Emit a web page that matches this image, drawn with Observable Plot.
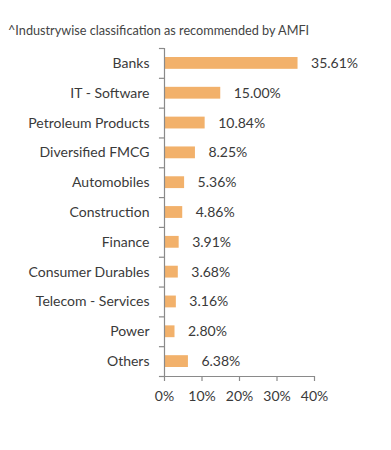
<!DOCTYPE html>
<html>
<head>
<meta charset="utf-8">
<script src="https://cdn.jsdelivr.net/npm/d3@7"></script>
<script src="https://cdn.jsdelivr.net/npm/@observablehq/plot@0.6"></script>
<style>
  body { margin: 0; background: #fff; font-family: Lato, sans-serif; }
  #wrap { position: relative; width: 391px; height: 450px; }
  #title { position: absolute; left: 8px; top: 22px; font-size: 12.7px; color: #444; white-space: nowrap; }
  #chart { position: absolute; left: 0; top: 0; }
</style>
</head>
<body>
<div id="wrap">
  <div id="title">^Industrywise classification as recommended by AMFI</div>
  <div id="chart"></div>
</div>
<script>
const categories = ["Banks", "IT - Software", "Petroleum Products", "Diversified FMCG", "Automobiles", "Construction", "Finance", "Consumer Durables", "Telecom - Services", "Power", "Others"];
const values = [35.61, 15.00, 10.84, 8.25, 5.36, 4.86, 3.91, 3.68, 3.16, 2.80, 6.38];
const valueLabels = ["35.61%", "15.00%", "10.84%", "8.25%", "5.36%", "4.86%", "3.91%", "3.68%", "3.16%", "2.80%", "6.38%"];
const xTicks = [0, 10, 20, 30, 40];

const data = categories.map((c, i) => ({category: c, value: values[i], label: valueLabels[i]}));

const height = 450, marginTop = 48, marginBottom = 74;
const step = (height - marginTop - marginBottom) / categories.length;
const axisColor = "#8a8a8a";
const barColor = "#F2B16B";
const textColor = "#3a3a3a";

const chart = Plot.plot({
  width: 391,
  height,
  marginLeft: 164,
  marginRight: 77,
  marginTop,
  marginBottom,
  style: {fontFamily: "Lato, sans-serif", fontSize: "14px", color: textColor, background: "transparent"},
  x: {domain: [0, 40], axis: null},
  y: {domain: categories, padding: 0, round: false, axis: null},
  marks: [
    Plot.barX(data, {x: "value", y: "category", fill: barColor, insetTop: 9, insetBottom: 9}),
    // y axis line
    Plot.ruleX([0], {stroke: axisColor, strokeWidth: 1.2}),
    // y ticks at band boundaries
    Plot.ruleY(categories, {y: d => d, x1: -1.35, x2: 0, dy: -step / 2, stroke: axisColor, strokeWidth: 1.2}),
    Plot.ruleY([categories[categories.length - 1]], {y: d => d, x1: -1.35, x2: 0, dy: step / 2, stroke: axisColor, strokeWidth: 1.2}),
    // x axis baseline
    Plot.ruleY([categories[categories.length - 1]], {y: d => d, x1: 0, x2: 40, dy: step / 2, stroke: axisColor, strokeWidth: 1.2}),
    Plot.axisX({ticks: xTicks, tickFormat: d => d + "%", label: null, tickSize: 5, tickPadding: 10, stroke: axisColor, strokeWidth: 1.2, fill: textColor, fontSize: 14}),
    // category labels
    Plot.text(data, {x: 0, y: "category", text: "category", textAnchor: "end", dx: -15, fill: textColor, fontSize: 14}),
    // value labels
    Plot.text(data, {x: "value", y: "category", text: "label", textAnchor: "start", dx: 13, fill: textColor, fontSize: 14})
  ]
});
document.getElementById("chart").appendChild(chart);
</script>
</body>
</html>
